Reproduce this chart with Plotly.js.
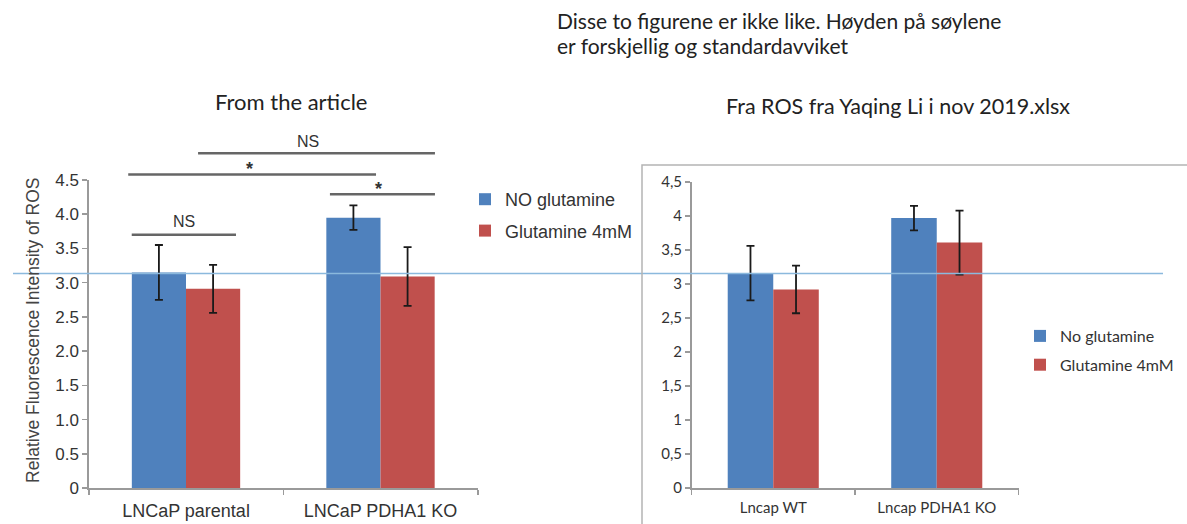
<!DOCTYPE html>
<html><head><meta charset="utf-8">
<script src="https://cdn.plot.ly/plotly-3.0.1.min.js"></script>
<style>html,body{margin:0;padding:0;background:#fff}#chart{width:1187px;height:524px}</style>
</head><body><div id="chart"></div>
<script>
// ---- data ----
const catsArticle = ["LNCaP parental", "LNCaP PDHA1 KO"];
const noGlnArticle = [3.15, 3.95];
const noGlnArticleErr = [0.40, 0.18];
const glnArticle = [2.91, 3.09];
const glnArticleErr = [0.35, 0.43];

const catsXlsx = ["Lncap WT", "Lncap PDHA1 KO"];
const noGlnXlsx = [3.16, 3.97];
const noGlnXlsxErr = [0.40, 0.18];
const glnXlsx = [2.92, 3.61];
const glnXlsxErr = [0.35, 0.47];

const yTickVals = [0, 0.5, 1, 1.5, 2, 2.5, 3, 3.5, 4, 4.5];
const yTickTextArticle = ["0", "0.5", "1.0", "1.5", "2.0", "2.5", "3.0", "3.5", "4.0", "4.5"];
const yTickTextXlsx = ["0", "0,5", "1", "1,5", "2", "2,5", "3", "3,5", "4", "4,5"];

// significance brackets (left chart): [x0, x1, y, label, labelX, labelY]
const sigBrackets = [
  [-0.279, 0.257, 3.70, "NS", -0.01, 3.89],
  [-0.297, 0.977, 4.58, "*", 0.326, 4.66],
  [0.062, 1.28, 4.89, "NS", 0.627, 5.06],
  [0.74, 1.28, 4.29, "*", 0.99, 4.37]
];

const W = 1187, H = 524;
const BLUE = "#4F81BD", RED = "#C0504D";
const ARIAL = "Liberation Sans, Arial, sans-serif";
const CAL = "Lato, Open Sans, sans-serif";
const px = v => v / W;
const py = v => 1 - v / H;
const idx = [0, 1];
const yMax = 4.5;

function errBar(arr) {
  return {type: "data", array: arr, visible: true, color: "#1a1a1a", thickness: 1.8, width: 4};
}

const traces = [
  {type: "bar", x: idx, y: noGlnArticle, name: "NO glutamine", marker: {color: BLUE},
   error_y: errBar(noGlnArticleErr), xaxis: "x", yaxis: "y", legend: "legend", legendgroup: "a1"},
  {type: "bar", x: idx, y: glnArticle, name: "Glutamine 4mM", marker: {color: RED},
   error_y: errBar(glnArticleErr), xaxis: "x", yaxis: "y", legend: "legend", legendgroup: "a2"},
  {type: "bar", x: idx, y: noGlnXlsx, name: "No glutamine", marker: {color: BLUE},
   error_y: errBar(noGlnXlsxErr), xaxis: "x2", yaxis: "y2", legend: "legend2", legendgroup: "b1"},
  {type: "bar", x: idx, y: glnXlsx, name: "Glutamine 4mM", marker: {color: RED},
   error_y: errBar(glnXlsxErr), xaxis: "x2", yaxis: "y2", legend: "legend2", legendgroup: "b2"}
];

const shapes = [];
const annotations = [];
sigBrackets.forEach(b => {
  shapes.push({type: "line", xref: "x", yref: "y domain", x0: b[0], x1: b[1], y0: b[2] / yMax, y1: b[2] / yMax,
    line: {color: "#666", width: 2.5}});
  const star = b[3] === "*";
  annotations.push({xref: "x", yref: "y domain", x: b[4], y: b[5] / yMax, xanchor: "center", yanchor: "middle",
    text: star ? "<b>*</b>" : b[3], showarrow: false,
    font: {family: ARIAL, size: star ? 18 : 16, color: "#333"}});
});
// horizontal reference line across the whole figure
shapes.push({type: "line", xref: "paper", yref: "paper", x0: px(13), x1: px(1163), y0: py(273.5), y1: py(273.5),
  line: {color: "#8bb9dd", width: 1.5}});
// border box of the right chart
shapes.push({type: "rect", xref: "paper", yref: "paper", x0: px(642), x1: px(1195), y0: py(530), y1: py(165),
  line: {color: "#b4b4b4", width: 1.5}});

function note(x, y, text, font, extra) {
  return Object.assign({xref: "paper", yref: "paper", x: px(x), y: py(y), xanchor: "center", yanchor: "middle",
    showarrow: false, text: text, font: font}, extra || {});
}
annotations.push(
  note(555, 20.5, "Disse to figurene er ikke like. Høyden på søylene", {family: CAL, size: 21, color: "#222"}, {xanchor: "left"}),
  note(555, 45.5, "er forskjellig og standardavviket", {family: CAL, size: 21, color: "#222"}, {xanchor: "left"}),
  note(290.5, 102, "From the article", {family: CAL, size: 22, color: "#222"}),
  note(897.5, 106, "Fra ROS fra Yaqing Li i nov 2019.xlsx", {family: CAL, size: 21.5, color: "#222"}),
  note(33, 331, "Relative Fluorescence Intensity of ROS", {family: ARIAL, size: 17.5, color: "#444"}, {textangle: -90})
);

function xAxis(domain, cats, font, standoff) {
  return {domain: domain, range: [-0.5, 1.5], tickmode: "array", tickvals: idx, ticktext: cats,
    ticks: "", ticklabelstandoff: standoff, showline: true, linecolor: "#9a9a9a", linewidth: 1.5,
    showgrid: false, zeroline: false, tickfont: font, fixedrange: true,
    minor: {tickmode: "array", tickvals: [-0.5, 0.5, 1.5], ticks: "outside", ticklen: 5, tickcolor: "#9a9a9a", tickwidth: 1.5, showgrid: false}};
}
function yAxis(domain, ticktext, font, anchor) {
  return {domain: domain, range: [0, yMax], tickmode: "array", tickvals: yTickVals, ticktext: ticktext,
    ticks: "outside", ticklen: 5, tickcolor: "#9a9a9a", tickwidth: 1.5, showline: true, linecolor: "#9a9a9a", linewidth: 1.5,
    showgrid: false, zeroline: false, tickfont: font, anchor: anchor, fixedrange: true};
}

const layout = {
  width: W, height: H, margin: {l: 0, r: 0, t: 0, b: 0},
  paper_bgcolor: "#fff", plot_bgcolor: "rgba(0,0,0,0)",
  barmode: "group", bargap: 0.443, bargroupgap: 0,
  showlegend: true,
  xaxis: xAxis([px(88.75), px(477.75)], catsArticle, {family: ARIAL, size: 18, color: "#333"}, 6),
  yaxis: yAxis([py(488), py(180)], yTickTextArticle, {family: ARIAL, size: 17, color: "#333"}, "x"),
  xaxis2: xAxis([px(691.5), px(1018.5)], catsXlsx, {family: CAL, size: 15, color: "#333"}, 5),
  yaxis2: yAxis([py(488), py(182)], yTickTextXlsx, {family: CAL, size: 15, color: "#333"}, "x2"),
  legend: {x: px(465), y: py(181), xanchor: "left", yanchor: "top", bgcolor: "rgba(0,0,0,0)",
    font: {family: ARIAL, size: 18, color: "#333"}, traceorder: "grouped", tracegroupgap: 5, itemwidth: 30},
  legend2: {x: px(1020), y: py(319), xanchor: "left", yanchor: "top", bgcolor: "rgba(0,0,0,0)",
    font: {family: CAL, size: 16, color: "#333"}, traceorder: "grouped", tracegroupgap: 5, itemwidth: 30},
  shapes: shapes, annotations: annotations
};
layout.xaxis.anchor = "y";
layout.xaxis2.anchor = "y2";

Plotly.newPlot("chart", traces, layout, {displayModeBar: false, staticPlot: true});
</script></body></html>
